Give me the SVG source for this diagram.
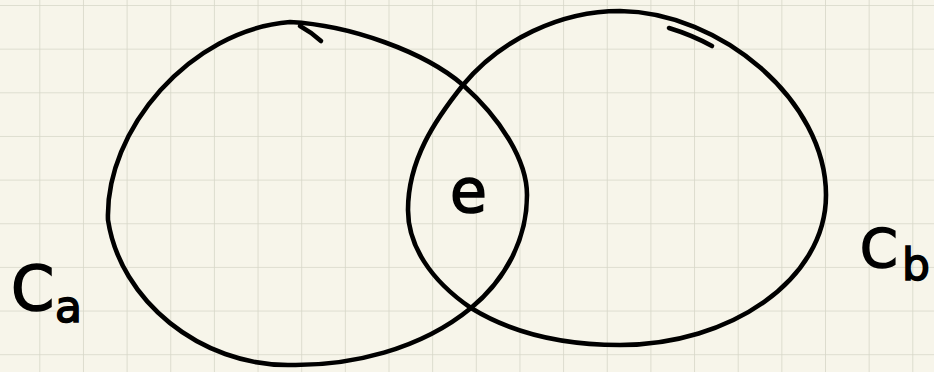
<svg xmlns="http://www.w3.org/2000/svg" width="934" height="372" viewBox="0 0 934 372">
  <defs>
    <pattern id="grid" x="39.3" y="5" width="43.65" height="43.65" patternUnits="userSpaceOnUse">
      <path d="M0 0 H43.65 M0 0 V43.65" fill="none" stroke="#d6d6c8" stroke-width="1.6"/>
    </pattern>
    <style>
      .ink { fill: none; stroke: #000; stroke-width: 4.6; stroke-linecap: round; stroke-linejoin: round; }
      .lbl { font-family: "DejaVu Sans", sans-serif; fill: #000; stroke: #000; stroke-width: 1.6; }
    </style>
  </defs>
  <rect width="934" height="372" fill="#f7f5ea"/>
  <rect width="934" height="372" fill="url(#grid)"/>
  <g id="connectors"></g>
  <g id="loop-a">
    <path class="ink" d="M290 22 C350 25 425 52 463 85 C500 118 527 160 527 195 C527 240 505 280 471 308 C420 350 350 366 290 365 C200 366 120 300 108 220 C105 130 190 30 290 22 Z"/>
    <path class="ink" d="M300 26 Q311 32 321 41"/>
    <text class="lbl" x="11" y="310" font-size="62">C<tspan x="55" y="322" font-size="44">a</tspan></text>
  </g>
  <g id="loop-b">
    <path class="ink" d="M620 11 C720 12 826 100 826 195 C826 280 730 345 620 345 C560 345 510 332 471 308 C430 280 408 245 408 210 C408 160 435 120 463 85 C500 40 560 11 620 11 Z"/>
    <path class="ink" d="M669 28 Q692 35 712 46"/>
    <text class="lbl" x="860" y="267" font-size="54">C<tspan x="902" y="280" font-size="44">b</tspan></text>
  </g>
  <g id="intersection">
    <text class="lbl" x="450" y="212" font-size="60">e</text>
  </g>
</svg>
